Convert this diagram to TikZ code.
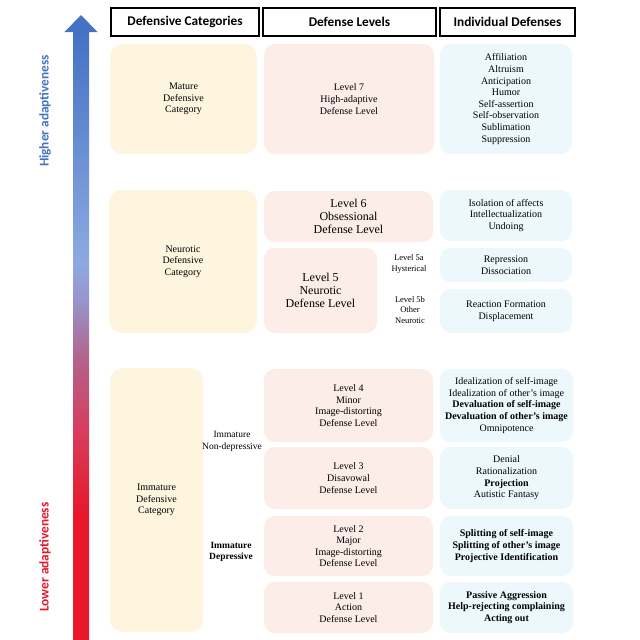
\documentclass[tikz,border=0pt]{standalone}
\usepackage{fontspec}
\setmainfont{Liberation Serif}
\newfontfamily\hdfont{Carlito}
\definecolor{catfill}{HTML}{FEF5DF}
\definecolor{lvlfill}{HTML}{FCEDE8}
\definecolor{indfill}{HTML}{ECF8FC}
\definecolor{arrblue}{RGB}{68,114,196}
\definecolor{arrred}{RGB}{232,22,40}
\pgfdeclareverticalshading{adaptshade}{100bp}{%
  color(0bp)=(arrred);
  color(25bp)=(arrred);
  color(35bp)=(arrred);
  color(42bp)=(rgb,255:red,215;green,60;blue,90);
  color(48bp)=(rgb,255:red,180;green,98;blue,138);
  color(53bp)=(rgb,255:red,150;green,150;blue,205);
  color(56bp)=(rgb,255:red,140;green,170;blue,225);
  color(75bp)=(arrblue);
  color(100bp)=(arrblue)}
\newcommand\mkbox[7]{%
  \node[#1, minimum width={(#4)-(#3)}, minimum height={(#6)-(#5)}] (#2) at ({((#3)+(#4))/2},{((#5)+(#6))/2}) {#7};}
\tikzset{
  base/.style={inner sep=0pt, align=center, font=\fontsize{10}{11.6}\selectfont},
  hdbox/.style={base, draw=black, line width=1.2pt, font=\hdfont\bfseries\fontsize{13.3}{15}\selectfont},
  catbox/.style={base, fill=catfill, rounded corners=13pt},
  lvlbox/.style={base, fill=lvlfill, rounded corners=11pt},
  indbox/.style={base, fill=indfill, rounded corners=11pt},
  lbl/.style={inner sep=0pt, align=center, font=\fontsize{10}{12}\selectfont},
  small/.style={inner sep=0pt, align=center, font=\fontsize{8.5}{10.5}\selectfont},
  big/.style={font=\fontsize{12}{13}\selectfont},
  side/.style={inner sep=0pt, rotate=90, font=\hdfont\bfseries\fontsize{13.3}{15}\selectfont}
}
\begin{document}
\begin{tikzpicture}[x=1pt,y=-1pt]
\useasboundingbox[fill=white] (0,0) rectangle (640,640);
% arrow
\shade[shading=adaptshade] (73,31) rectangle (89,640);
\fill[arrblue] (64.5,32) -- (81,15) -- (97.5,32) -- cycle;
\node[side, text=arrblue] (hi) at (45,111) {Higher adaptiveness};
\node[side, text=arrred] (lo) at (45,557) {Lower adaptiveness};
% headers
\mkbox{hdbox}{h1}{111}{259}{8}{36}{Defensive Categories}
\mkbox{hdbox}{h2}{263}{436}{8}{36}{Defense Levels}
\mkbox{hdbox}{h3}{440}{575}{8}{36}{Individual Defenses}
% mature
\mkbox{catbox}{mature}{110}{257}{44}{154}{Mature\\Defensive\\Category}
\mkbox{lvlbox}{l7}{264}{434}{44}{154}{Level 7\\High-adaptive\\Defense Level}
\mkbox{indbox}{i7}{440}{572}{44}{154}{Affiliation\\Altruism\\Anticipation\\Humor\\Self-assertion\\Self-observation\\Sublimation\\Suppression}
% neurotic
\mkbox{catbox}{neurotic}{109}{257}{190}{333}{Neurotic\\Defensive\\Category}
\mkbox{lvlbox,big}{l6}{264}{433}{191}{242}{Level 6\\Obsessional\\Defense Level}
\mkbox{lvlbox,big}{l5}{264}{377}{248}{333}{Level 5\\Neurotic\\Defense Level}
\node[small] (l5a) at (409,264) {Level 5a\\Hysterical};
\node[small] (l5b) at (410,310) {Level 5b\\Other\\Neurotic};
\mkbox{indbox}{i6}{440}{572}{190}{241}{Isolation of affects\\Intellectualization\\Undoing}
\mkbox{indbox}{i5a}{440}{572}{248}{282}{Repression\\Dissociation}
\mkbox{indbox}{i5b}{440}{572}{289}{333}{Reaction Formation\\Displacement}
% immature
\mkbox{catbox}{immature}{110}{203}{368}{632}{Immature\\Defensive\\Category}
\node[lbl, font=\fontsize{9.5}{12}\selectfont] (nondep) at (232,441) {Immature\\Non-depressive};
\node[lbl, font=\bfseries\fontsize{9.5}{11}\selectfont] (dep) at (231,552) {Immature\\Depressive};
\mkbox{lvlbox}{l4}{264}{433}{369}{442}{Level 4\\Minor\\Image-distorting\\Defense Level}
\mkbox{lvlbox}{l3}{264}{433}{447}{509}{Level 3\\Disavowal\\Defense Level}
\mkbox{lvlbox}{l2}{264}{433}{516}{576}{Level 2\\Major\\Image-distorting\\Defense Level}
\mkbox{lvlbox}{l1}{264}{433}{582}{633}{Level 1\\Action\\Defense Level}
\mkbox{indbox}{i4}{440}{573}{369}{442}{Idealization of self-image\\Idealization of other's image\\\textbf{Devaluation of self-image}\\\textbf{Devaluation of other's image}\\Omnipotence}
\mkbox{indbox}{i3}{440}{573}{447}{509}{Denial\\Rationalization\\\textbf{Projection}\\Autistic Fantasy}
\mkbox{indbox}{i2}{440}{573}{516}{576}{\textbf{Splitting of self-image}\\\textbf{Splitting of other's image}\\\textbf{Projective Identification}}
\mkbox{indbox}{i1}{440}{573}{582}{633}{\textbf{Passive Aggression}\\\textbf{Help-rejecting complaining}\\\textbf{Acting out}}
\end{tikzpicture}
\end{document}
